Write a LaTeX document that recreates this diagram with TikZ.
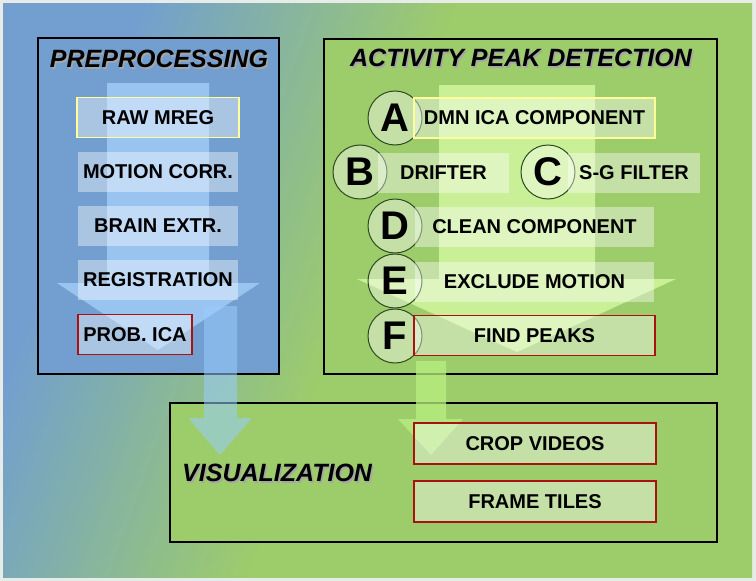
\documentclass[tikz,border=0pt]{standalone}
\usepackage{fontspec}
\setmainfont{Liberation Sans}
\definecolor{bgblue}{HTML}{729FCF}
\definecolor{bggreen}{HTML}{9DCC6B}
\definecolor{edgegrey}{HTML}{E8ECE8}
\definecolor{preflow}{HTML}{AAD4FF}
\definecolor{apdflow}{HTML}{DDFFAA}
\definecolor{bluelink}{HTML}{99CCFF}
\definecolor{greenlink}{HTML}{B8F080}
\definecolor{startline}{HTML}{FFFF99}
\definecolor{endline}{HTML}{AA1111}
\definecolor{ringline}{HTML}{2B4A1E}
\begin{document}
\begin{tikzpicture}[x=1pt,y=-1pt,
  stagebox/.style={fill=white,fill opacity=0.4,text opacity=1,draw opacity=1,
    minimum height=40pt,inner sep=0pt,font=\fontsize{20}{24}\selectfont\bfseries},
  startbox/.style={stagebox,draw=startline,line width=1.2pt},
  endbox/.style={stagebox,draw=endline,line width=1.4pt},
  ring/.style={circle,draw=ringline,line width=1pt,fill=white,fill opacity=0.4,
    text opacity=1,draw opacity=1,minimum size=54pt,inner sep=0pt,
    font=\fontsize{40}{40}\selectfont\bfseries},
  section/.style={draw=black,line width=1.3pt},
  heading/.style={font=\fontsize{25}{30}\selectfont\bfseries\itshape,inner sep=0pt},
  shadow/.style={heading,text=black!35}]
\useasboundingbox (0,0) rectangle (756,581);
\fill[edgegrey] (0,0) rectangle (756,581);
% background gradient, blue to green
\begin{scope}
\clip (3,3) rectangle (752,577);
\fill[bgblue] (3,3) rectangle (752,577);
\begin{scope}[shift={(378,290)},rotate=-20]
\fill[bggreen] (-22,-900) rectangle (900,900);
\foreach \i in {0,...,59}{
  \pgfmathtruncatemacro\blueshare{100-\i*100/59}
  \fill[bgblue!\blueshare!bggreen] (-320+5*\i,-900) rectangle (-314+5*\i,900);
}
\end{scope}
\end{scope}
% sections
\draw[section,fill=bgblue] (38,38) rectangle (279,374);
\draw[section,fill=bggreen] (324,39) rectangle (717,374);
\draw[section,fill=bggreen] (170,403) rectangle (717,542);
\node[shadow] at (160.5,60.5) {PREPROCESSING};
\node[heading] (pretitle) at (159,59) {PREPROCESSING};
\node[shadow] at (522.5,59.5) {ACTIVITY PEAK DETECTION};
\node[heading] (apdtitle) at (521,58) {ACTIVITY PEAK DETECTION};
\node[shadow,anchor=west] at (183.5,474.5) {VISUALIZATION};
\node[heading,anchor=west] (vistitle) at (182,473) {VISUALIZATION};
% flow arrows inside the sections
\fill[preflow,fill opacity=0.7] (107,83) -- (209,83) -- (209,283) -- (260,283)
  -- (158,350) -- (57,283) -- (107,283) -- cycle;
\fill[apdflow,fill opacity=0.7] (439,85) -- (595,85) -- (595,279) -- (676,279)
  -- (517,352) -- (357,279) -- (439,279) -- cycle;
% preprocessing steps
\node[startbox,minimum width=162pt] (rawmreg) at (158,117.5) {RAW MREG};
\node[stagebox,minimum width=160pt] (motion) at (158,172) {MOTION CORR.};
\node[stagebox,minimum width=160pt] (brain) at (158,226) {BRAIN EXTR.};
\node[stagebox,minimum width=160pt] (registration) at (158,280) {REGISTRATION};
\node[endbox,minimum width=114pt] (probica) at (135,334.5) {PROB. ICA};
% activity peak detection steps
\node[ring] (ringA) at (395,118) {A};
\node[ring] (ringB) at (360,172) {B};
\node[ring] (ringC) at (548,172) {C};
\node[ring] (ringD) at (395,226) {D};
\node[ring] (ringE) at (395,281) {E};
\node[ring] (ringF) at (395,336) {F};
\node[startbox,minimum width=241pt] (dmnica) at (534.5,118) {DMN ICA COMPONENT};
\node[stagebox,minimum width=131pt] (drifter) at (443.5,173) {DRIFTER};
\node[stagebox,minimum width=132pt] (sgfilter) at (634,173) {S-G FILTER};
\node[stagebox,minimum width=239pt] (clean) at (534.5,227) {CLEAN COMPONENT};
\node[stagebox,minimum width=239pt] (exclude) at (534.5,281.5) {EXCLUDE MOTION};
\node[endbox,minimum width=241pt] (findpeaks) at (534.5,335.5) {FIND PEAKS};
% links between sections
\fill[bluelink,fill opacity=0.55] (204,306) -- (237,306) -- (237,418) -- (252,418)
  -- (220,455) -- (188,418) -- (204,418) -- cycle;
\fill[greenlink,fill opacity=0.75] (416,361) -- (446,361) -- (446,419) -- (463,419)
  -- (431,455) -- (398,419) -- (416,419) -- cycle;
% visualization outputs
\node[endbox,minimum width=242pt,minimum height=41pt] (cropvideos) at (535,443.5) {CROP VIDEOS};
\node[endbox,minimum width=242pt,minimum height=41pt] (frametiles) at (535,501.5) {FRAME TILES};
\end{tikzpicture}
\end{document}
